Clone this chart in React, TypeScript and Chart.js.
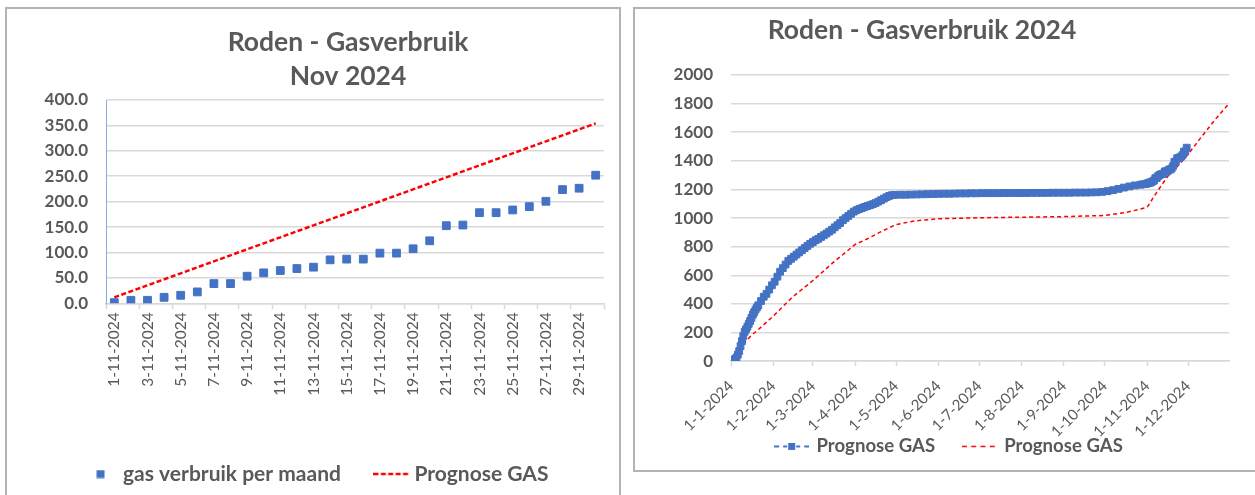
import React, { useEffect, useRef } from 'react';
import { Chart, registerables } from 'chart.js';

Chart.register(...registerables);

// ---------- November 2024 (left chart) ----------
const novLabels = [
  '1-11-2024', '2-11-2024', '3-11-2024', '4-11-2024', '5-11-2024', '6-11-2024',
  '7-11-2024', '8-11-2024', '9-11-2024', '10-11-2024', '11-11-2024', '12-11-2024',
  '13-11-2024', '14-11-2024', '15-11-2024', '16-11-2024', '17-11-2024', '18-11-2024',
  '19-11-2024', '20-11-2024', '21-11-2024', '22-11-2024', '23-11-2024', '24-11-2024',
  '25-11-2024', '26-11-2024', '27-11-2024', '28-11-2024', '29-11-2024', '30-11-2024',
];
const novUsage = [
  1.3, 5.9, 5.9, 11.8, 15.8, 22.4, 38.8, 38.8, 53.3, 59.9,
  64.5, 68.4, 71.1, 85.5, 86.9, 86.9, 98.7, 98.7, 107.3, 123.0,
  152.7, 154.0, 178.3, 178.3, 183.6, 190.2, 200.7, 223.7, 226.4, 252.0,
];
const novPrognose = [
  11.8, 23.6, 35.4, 47.2, 59.0, 70.8, 82.6, 94.4, 106.2, 118.0,
  129.8, 141.6, 153.4, 165.2, 177.0, 188.8, 200.6, 212.4, 224.2, 236.0,
  247.8, 259.6, 271.4, 283.2, 295.0, 306.8, 318.6, 330.4, 342.2, 354.0,
];

// ---------- Year 2024 (right chart), x = day of year (0 = 1-1-2024) ----------
const yearDays = [
  0, 1, 2, 3, 4, 5, 6, 7, 8, 9, 10, 11, 12, 13, 14, 15, 16, 17, 18, 19, 20,
  22, 24, 26, 28, 30, 32, 34, 36, 38,
  40, 42, 44, 46, 48, 50, 52, 54, 56, 58, 60, 62, 64, 66, 68, 70, 72, 74, 76, 78,
  80, 82, 84, 86, 88, 90, 92, 94, 96, 98, 100, 102, 104, 106, 108, 110, 112, 114, 116, 118,
  120, 124, 128, 132, 136, 140, 144, 148, 152, 156, 160, 164, 168, 172, 176, 180, 184, 188, 192, 196,
  200, 204, 208, 212, 216, 220, 224, 228, 232, 236, 240, 244, 248, 252, 256, 260, 264, 268, 272, 276,
  280, 284, 288, 292, 296, 300, 302, 304,
  305, 306, 307, 308, 309, 310, 311, 312, 313, 314, 315, 316, 317, 318, 319,
  320, 321, 322, 323, 324, 325, 326, 327, 328, 329, 330, 331, 332, 333, 334,
];
const yearUsage = [
  3, 5, 8, 14, 25, 45, 70, 105, 140, 175, 205, 222, 240, 260, 280, 302, 325, 342, 360, 375, 390,
  420, 450, 470, 500, 530, 555, 590, 625, 650,
  675, 700, 715, 730, 745, 760, 775, 790, 805, 820, 832, 845, 855, 868, 880, 892, 905, 918, 935, 950,
  965, 985, 1000, 1015, 1030, 1045, 1055, 1063, 1070, 1078, 1084, 1090, 1097, 1105, 1115, 1125, 1136, 1146, 1155, 1160,
  1162, 1163, 1163, 1164, 1165, 1166, 1167, 1168, 1169, 1170, 1170, 1171, 1172, 1172, 1173, 1173, 1174, 1174, 1174, 1174,
  1175, 1175, 1175, 1175, 1175, 1176, 1176, 1176, 1176, 1177, 1177, 1177, 1177, 1178, 1178, 1178, 1179, 1180, 1183, 1188,
  1195, 1204, 1213, 1221, 1228, 1233, 1236, 1239,
  1241, 1246, 1246, 1252, 1256, 1262, 1279, 1279, 1293, 1300, 1305, 1308, 1311, 1326, 1327,
  1327, 1339, 1339, 1347, 1363, 1393, 1394, 1418, 1418, 1424, 1430, 1441, 1464, 1466, 1492,
];
const prognoseDays = [0, 5, 10, 15, 20, 31, 45, 60, 75, 91, 100, 110, 121, 135, 152, 182, 213, 244, 274, 290, 305, 312, 320, 328, 335, 345, 355, 365];
const prognoseValues = [0, 70, 130, 180, 220, 315, 447, 563, 690, 815, 855, 905, 955, 980, 995, 1002, 1006, 1010, 1018, 1040, 1075, 1180, 1290, 1370, 1445, 1570, 1690, 1800];
const monthStartDays = [0, 31, 60, 91, 121, 152, 182, 213, 244, 274, 305, 335];
const monthLabels = [
  '1-1-2024', '1-2-2024', '1-3-2024', '1-4-2024', '1-5-2024', '1-6-2024',
  '1-7-2024', '1-8-2024', '1-9-2024', '1-10-2024', '1-11-2024', '1-12-2024',
];

const BLUE = '#4472c4';
const RED = '#ff0000';
const GRID = '#d9d9d9';
const TEXT = '#595959';
const FAMILY = 'Lato, "Open Sans", sans-serif';

function makeImg(w: number, h: number, draw: (g: CanvasRenderingContext2D) => void) {
  const c = document.createElement('canvas');
  c.width = w;
  c.height = h;
  const g = c.getContext('2d') as CanvasRenderingContext2D;
  draw(g);
  return c;
}

function titlePlugin(lines: string[], x: number, y: number, size: number, gap: number) {
  return {
    id: 'posTitle',
    afterDraw(chart: any) {
      const ctx = chart.ctx;
      ctx.save();
      ctx.font = `bold ${size}px ${FAMILY}`;
      ctx.fillStyle = TEXT;
      ctx.textAlign = 'center';
      ctx.textBaseline = 'middle';
      lines.forEach((l, i) => ctx.fillText(l, x, y + i * gap));
      ctx.restore();
    },
  };
}

export default function App() {
  const leftRef = useRef<HTMLCanvasElement>(null);
  const rightRef = useRef<HTMLCanvasElement>(null);

  useEffect(() => {
    const defaultLabels = (Chart as any).defaults.plugins.legend.labels.generateLabels;

    // ----- left chart -----
    const sq = makeImg(9, 9, (g) => {
      g.fillStyle = BLUE;
      g.fillRect(0.5, 0.5, 8, 8);
    });
    const redDashL = makeImg(37, 4, (g) => {
      g.strokeStyle = RED;
      g.lineWidth = 2.5;
      g.setLineDash([5, 2.4]);
      g.beginPath();
      g.moveTo(0, 2);
      g.lineTo(37, 2);
      g.stroke();
    });
    const leftImgs = [sq, redDashL];

    const left = new Chart(leftRef.current as HTMLCanvasElement, {
      type: 'line',
      data: {
        labels: novLabels,
        datasets: [
          {
            label: 'gas verbruik per maand',
            data: novUsage,
            showLine: false,
            pointStyle: 'rect',
            pointRadius: 5.5,
            pointBorderWidth: 1,
            pointBackgroundColor: BLUE,
            pointBorderColor: BLUE,
            borderColor: BLUE,
            backgroundColor: BLUE,
          },
          {
            label: 'Prognose GAS',
            data: novPrognose,
            borderColor: RED,
            backgroundColor: RED,
            borderWidth: 2.5,
            borderDash: [5, 2.5],
            pointRadius: 0,
          },
        ],
      },
      options: {
        responsive: false,
        animation: false,
        devicePixelRatio: 1,
        layout: { padding: { top: 91, right: 15, bottom: 4.5, left: 26 } },
        elements: { line: { tension: 0 } },
        plugins: {
          title: { display: false },
          tooltip: { enabled: false },
          legend: {
            position: 'bottom',
            labels: {
              usePointStyle: true,
              pointStyleWidth: 24,
              padding: 39,
              color: TEXT,
              font: { family: FAMILY, size: 21, weight: 'bold' },
              generateLabels: (chart: any) =>
                defaultLabels(chart).map((it: any, i: number) => ({ ...it, pointStyle: leftImgs[i] })),
            },
          },
        },
        scales: {
          x: {
            type: 'category',
            offset: true,
            grid: {
              display: true,
              drawOnChartArea: false,
              drawTicks: true,
              tickLength: 6,
              tickWidth: 1.5,
              offset: true,
              tickColor: (c: any) =>
                c.index === undefined || c.type !== 'tick' || c.index % 2 === 0 ? GRID : 'rgba(0,0,0,0)',
            },
            border: { display: true, color: GRID, width: 1.5 },
            ticks: {
              autoSkip: false,
              minRotation: 90,
              maxRotation: 90,
              padding: 3,
              color: TEXT,
              font: { family: FAMILY, size: 15.5 },
              callback: (_v: any, i: number) => (i % 2 === 0 ? novLabels[i] : ''),
            },
            afterFit: (s: any) => {
              s.height = 121.2;
            },
          },
          y: {
            min: 0,
            max: 400,
            grid: { color: GRID, lineWidth: 1.5, drawTicks: false },
            border: { display: true, color: '#8eaadb', width: 1 },
            ticks: {
              stepSize: 50,
              padding: 18,
              color: TEXT,
              font: { family: FAMILY, size: 17, weight: 'bold' },
              callback: (v: any) => Number(v).toFixed(1),
            },
            afterFit: (s: any) => {
              s.width = 73;
            },
          },
        },
      } as any,
      plugins: [titlePlugin(['Roden - Gasverbruik', 'Nov 2024'], 341, 33, 26.5, 34.7)],
    });

    // ----- right chart -----
    const blueLeg = makeImg(35, 9, (g) => {
      g.strokeStyle = BLUE;
      g.lineWidth = 2;
      const segs = [[0, 5], [9, 13], [22, 26], [30, 35]];
      segs.forEach(([a, b]) => {
        g.beginPath();
        g.moveTo(a, 4.5);
        g.lineTo(b, 4.5);
        g.stroke();
      });
      g.fillStyle = BLUE;
      g.fillRect(14, 1, 7, 7);
    });
    const redLegR = makeImg(35, 3, (g) => {
      g.strokeStyle = RED;
      g.lineWidth = 1.5;
      g.setLineDash([5, 4.3]);
      g.beginPath();
      g.moveTo(0, 1.5);
      g.lineTo(35, 1.5);
      g.stroke();
    });
    const rightImgs = [blueLeg, redLegR];

    const right = new Chart(rightRef.current as HTMLCanvasElement, {
      type: 'line',
      data: {
        datasets: [
          {
            label: 'Prognose GAS',
            data: yearDays.map((d, i) => ({ x: d, y: yearUsage[i] })),
            borderColor: BLUE,
            backgroundColor: BLUE,
            borderWidth: 1.5,
            borderDash: [4, 3],
            pointStyle: 'rect',
            pointRadius: 4.8,
            pointBorderWidth: 1,
            pointBackgroundColor: BLUE,
            pointBorderColor: BLUE,
          },
          {
            label: 'Prognose GAS',
            data: prognoseDays.map((d, i) => ({ x: d, y: prognoseValues[i] })),
            borderColor: RED,
            backgroundColor: RED,
            borderWidth: 1.5,
            borderDash: [4, 3],
            pointRadius: 0,
          },
        ],
      },
      options: {
        responsive: false,
        animation: false,
        devicePixelRatio: 1,
        layout: { padding: { top: 66, right: 39, bottom: 4.3, left: 35 } },
        elements: { line: { tension: 0 } },
        plugins: {
          title: { display: false },
          tooltip: { enabled: false },
          legend: {
            position: 'bottom',
            labels: {
              usePointStyle: true,
              pointStyleWidth: 31,
              padding: 28.7,
              color: TEXT,
              font: { family: FAMILY, size: 18.6, weight: 'bold' },
              generateLabels: (chart: any) =>
                defaultLabels(chart).map((it: any, i: number) => ({ ...it, pointStyle: rightImgs[i] })),
            },
          },
        },
        scales: {
          x: {
            type: 'linear',
            min: 0,
            max: 365,
            afterBuildTicks: (s: any) => {
              s.ticks = monthStartDays.map((v) => ({ value: v }));
            },
            grid: {
              display: true,
              drawOnChartArea: false,
              drawTicks: true,
              tickLength: 5,
              tickWidth: 1.5,
              tickColor: GRID,
            },
            border: { display: true, color: GRID, width: 1.5 },
            ticks: {
              autoSkip: false,
              minRotation: 45,
              maxRotation: 45,
              padding: 11,
              color: TEXT,
              font: { family: FAMILY, size: 15 },
              callback: (_v: any, i: number) => monthLabels[i],
            },
            afterFit: (s: any) => {
              s.height = 47.3;
              // let the rotated labels run past the (deliberately short) axis box
              s._computeLabelArea = () => undefined;
            },
          },
          y: {
            min: 0,
            max: 2000,
            grid: { color: GRID, lineWidth: 1.5, drawTicks: false },
            border: { display: false },
            ticks: {
              stepSize: 200,
              padding: 18,
              color: TEXT,
              font: { family: FAMILY, size: 17, weight: 'bold' },
              callback: (v: any) => String(v),
            },
            afterFit: (s: any) => {
              s.width = 61;
            },
          },
        },
      } as any,
      plugins: [titlePlugin(['Roden - Gasverbruik 2024'], 287, 21, 26.5, 0)],
    });

    return () => {
      left.destroy();
      right.destroy();
    };
  }, []);

  return (
    <div>
      <div
        style={{
          position: 'fixed',
          left: 5,
          top: 7,
          width: 612,
          height: 500,
          border: '2px solid #b3b3b3',
          background: '#fff',
        }}
      >
        <canvas ref={leftRef} width={612} height={490} style={{ display: 'block', width: 612, height: 490 }} />
      </div>
      <div
        style={{
          position: 'fixed',
          left: 633,
          top: 7,
          width: 633,
          height: 461,
          border: '2px solid #b3b3b3',
          background: '#fff',
        }}
      >
        <canvas ref={rightRef} width={633} height={461} style={{ display: 'block', width: 633, height: 461 }} />
      </div>
    </div>
  );
}
